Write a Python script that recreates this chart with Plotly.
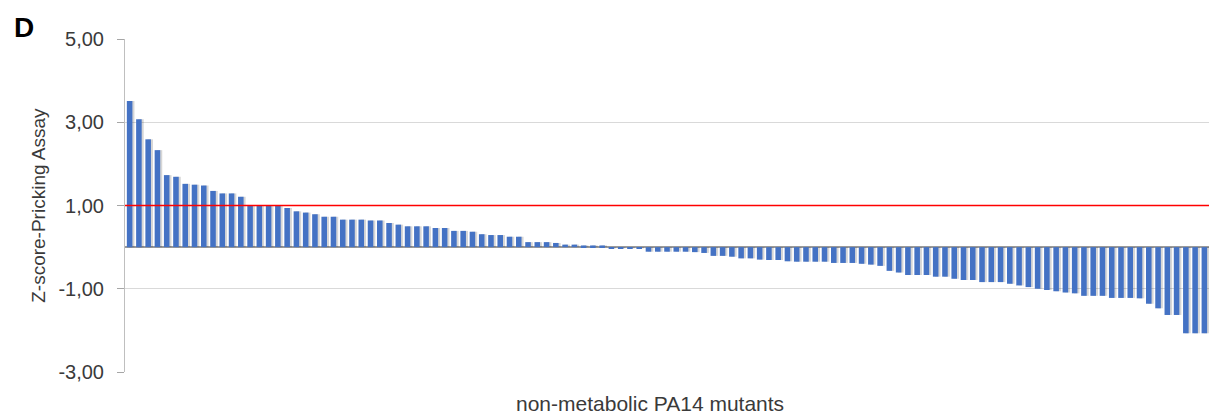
import plotly.graph_objects as go

# Z-scores of non-metabolic PA14 mutants, sorted high to low
mutant_rank = list(range(1, 118))
z_scores = [
    3.51, 3.07, 2.59, 2.33, 1.73, 1.69, 1.52, 1.50, 1.48, 1.35,
    1.29, 1.29, 1.21, 0.99, 0.99, 0.99, 0.99, 0.94, 0.86, 0.83,
    0.79, 0.73, 0.73, 0.66, 0.66, 0.66, 0.64, 0.64, 0.58, 0.54,
    0.50, 0.50, 0.50, 0.46, 0.46, 0.39, 0.39, 0.37, 0.31, 0.29,
    0.29, 0.25, 0.25, 0.12, 0.12, 0.12, 0.10, 0.06, 0.06, 0.04,
    0.04, 0.04, -0.03, -0.03, -0.03, -0.03, -0.11, -0.11, -0.11, -0.11,
    -0.11, -0.12, -0.14, -0.21, -0.21, -0.23, -0.27, -0.27, -0.30, -0.31,
    -0.31, -0.34, -0.35, -0.35, -0.35, -0.35, -0.38, -0.38, -0.38, -0.40,
    -0.42, -0.45, -0.57, -0.61, -0.67, -0.67, -0.67, -0.71, -0.71, -0.76,
    -0.79, -0.79, -0.84, -0.84, -0.84, -0.88, -0.92, -0.96, -1.00, -1.03,
    -1.06, -1.09, -1.11, -1.17, -1.17, -1.17, -1.22, -1.22, -1.22, -1.23,
    -1.36, -1.47, -1.63, -1.63, -2.07, -2.07, -2.07,
]
threshold = 1.0
tick_vals = [-3, -1, 1, 3, 5]
tick_text = ["-3,00", "-1,00", "1,00", "3,00", "5,00"]

FONT = "Liberation Sans, Arial, sans-serif"
TEXT = "#3a3a3a"
BAR_W = 0.6

fig = go.Figure()

# soft drop shadow behind each bar
fig.add_trace(go.Bar(
    x=mutant_rank, y=z_scores, width=BAR_W, offset=-BAR_W / 2 + 0.22,
    marker=dict(color="rgba(0,0,0,0.16)", line=dict(width=0)),
    hoverinfo="skip", showlegend=False,
))
fig.add_trace(go.Bar(
    x=mutant_rank, y=z_scores, width=BAR_W, offset=-BAR_W / 2,
    marker=dict(color="#4472C4", line=dict(width=0)),
    showlegend=False,
))

# significance threshold
fig.add_shape(type="line", xref="paper", x0=0, x1=1, yref="y", y0=threshold, y1=threshold,
              line=dict(color="#ff0000", width=1.6))

fig.update_layout(
    width=1213, height=416,
    margin=dict(l=125, r=4, t=39, b=44),
    paper_bgcolor="white", plot_bgcolor="white",
    barmode="overlay",
    font=dict(family=FONT, color=TEXT),
    xaxis=dict(range=[0.5, 117.5], showticklabels=False, ticks="", showgrid=False,
               zeroline=False, showline=False),
    yaxis=dict(range=[-3, 5], tickvals=tick_vals, ticktext=tick_text,
               tickfont=dict(size=20, color=TEXT, family=FONT),
               ticks="outside", ticklen=7, tickcolor="#a6a6a6", tickwidth=1,
               ticklabelstandoff=9,
               showgrid=True, gridcolor="#d9d9d9", gridwidth=1,
               zeroline=True, zerolinecolor="#9a9a9a", zerolinewidth=1.5,
               showline=True, linecolor="#bfbfbf", linewidth=1),
    annotations=[
        dict(text="<b>D</b>", xref="paper", yref="paper", x=-0.104, y=1.036,
             xanchor="left", yanchor="middle", showarrow=False,
             font=dict(size=28, color="black", family=FONT)),
        dict(text="Z-score-Pricking Assay", xref="paper", yref="paper", x=-0.080, y=0.50,
             xanchor="center", yanchor="middle", textangle=-90, showarrow=False,
             font=dict(size=19, color=TEXT, family=FONT)),
        dict(text="non-metabolic PA14 mutants", xref="paper", yref="paper", x=0.484, y=-0.096,
             xanchor="center", yanchor="middle", showarrow=False,
             font=dict(size=21, color=TEXT, family=FONT)),
    ],
)

fig.write_html("out.html")
